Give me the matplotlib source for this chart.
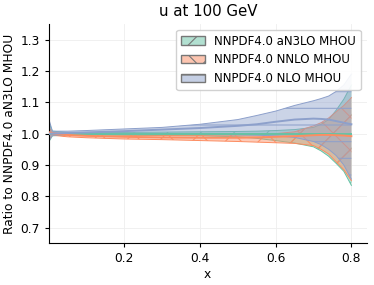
#Ratio of u PDF at 100 GeV for different perturbative orders (MHOU fits)
import numpy as np
import matplotlib.pyplot as plt
from matplotlib.colors import to_rgba
from matplotlib.patches import Patch

x = [0.001, 0.01, 0.05, 0.1, 0.2, 0.3, 0.4, 0.5, 0.55, 0.6, 0.65, 0.7, 0.72, 0.74, 0.76, 0.78, 0.8]

#aN3LO (reference)
an3lo_cv = [1.0] * len(x)
an3lo_up = [1.035, 1.008, 1.004, 1.004, 1.004, 1.005, 1.006, 1.007, 1.008, 1.010, 1.013, 1.020, 1.030, 1.045, 1.075, 1.110, 1.155]
an3lo_lo = [0.975, 0.993, 0.996, 0.996, 0.995, 0.994, 0.993, 0.990, 0.985, 0.978, 0.970, 0.958, 0.945, 0.928, 0.905, 0.880, 0.835]

#NNLO
nnlo_cv = [1.005, 1.000, 0.996, 0.993, 0.990, 0.988, 0.987, 0.987, 0.988, 0.990, 0.992, 0.995, 0.996, 0.996, 0.995, 0.994, 0.992]
nnlo_up = [1.020, 1.004, 1.000, 0.998, 0.996, 0.995, 0.995, 0.996, 0.997, 1.000, 1.006, 1.025, 1.035, 1.050, 1.070, 1.090, 1.115]
nnlo_lo = [0.980, 0.995, 0.990, 0.987, 0.983, 0.981, 0.978, 0.975, 0.973, 0.971, 0.969, 0.962, 0.950, 0.935, 0.910, 0.885, 0.850]

#NLO
nlo_cv = [1.000, 1.000, 1.002, 1.004, 1.008, 1.013, 1.018, 1.025, 1.030, 1.038, 1.045, 1.048, 1.047, 1.045, 1.040, 1.035, 1.030]
nlo_up = [1.045, 1.008, 1.008, 1.010, 1.015, 1.020, 1.030, 1.045, 1.058, 1.072, 1.090, 1.105, 1.112, 1.120, 1.135, 1.155, 1.190]
nlo_lo = [0.978, 0.995, 0.997, 0.998, 0.998, 0.998, 0.997, 0.996, 0.995, 0.993, 0.988, 0.975, 0.965, 0.950, 0.930, 0.900, 0.855]

labels = ["NNPDF4.0 aN3LO MHOU", "NNPDF4.0 NNLO MHOU", "NNPDF4.0 NLO MHOU"]
colors = ["#66c2a5", "#fc8d62", "#8da0cb"]
hatches = ["/", "x", "-"]

plt.rcParams['font.size'] = 8.8
plt.rcParams['hatch.linewidth'] = 0.8

fig = plt.figure(figsize=(3.74, 2.85), dpi=100)
ax = fig.add_axes([0.131, 0.146, 0.849, 0.770])

bands = [(an3lo_cv, an3lo_up, an3lo_lo), (nnlo_cv, nnlo_up, nnlo_lo), (nlo_cv, nlo_up, nlo_lo)]
handles = []
for i, (cv, up, lo) in enumerate(bands):
    ax.plot(x, cv, color=colors[i], lw=1.4, zorder=3)
    ax.plot(x, up, color=colors[i], lw=0.7)
    ax.plot(x, lo, color=colors[i], lw=0.7)
    ax.fill_between(x, lo, up, facecolor=to_rgba(colors[i], 0.45),
                    edgecolor=to_rgba(colors[i], 0.9), hatch=hatches[i], lw=0, zorder=2)
    handles.append(Patch(facecolor=to_rgba(colors[i], 0.5), edgecolor="#777777",
                         hatch=hatches[i], lw=1.0))

ax.set_xlim(0.001, 0.84)
ax.set_ylim(0.65, 1.35)
ax.set_xticks([0.2, 0.4, 0.6, 0.8])
ax.set_yticks([0.7, 0.8, 0.9, 1.0, 1.1, 1.2, 1.3])
ax.grid(True, color="#eeeeee", lw=0.6)
ax.set_axisbelow(True)
ax.spines['top'].set_visible(False)
ax.spines['right'].set_visible(False)
ax.tick_params(length=3, width=0.8)

ax.set_xlabel("x", labelpad=2)
ax.set_ylabel("Ratio to NNPDF4.0 aN3LO MHOU", labelpad=3)
ax.set_title("u at 100 GeV", fontsize=10.8, pad=6)

leg = ax.legend(handles, labels, loc="upper right", fontsize=8.5, framealpha=0.9,
                edgecolor="#cccccc", borderaxespad=0.5)

fig.savefig("out.png", dpi=100)
